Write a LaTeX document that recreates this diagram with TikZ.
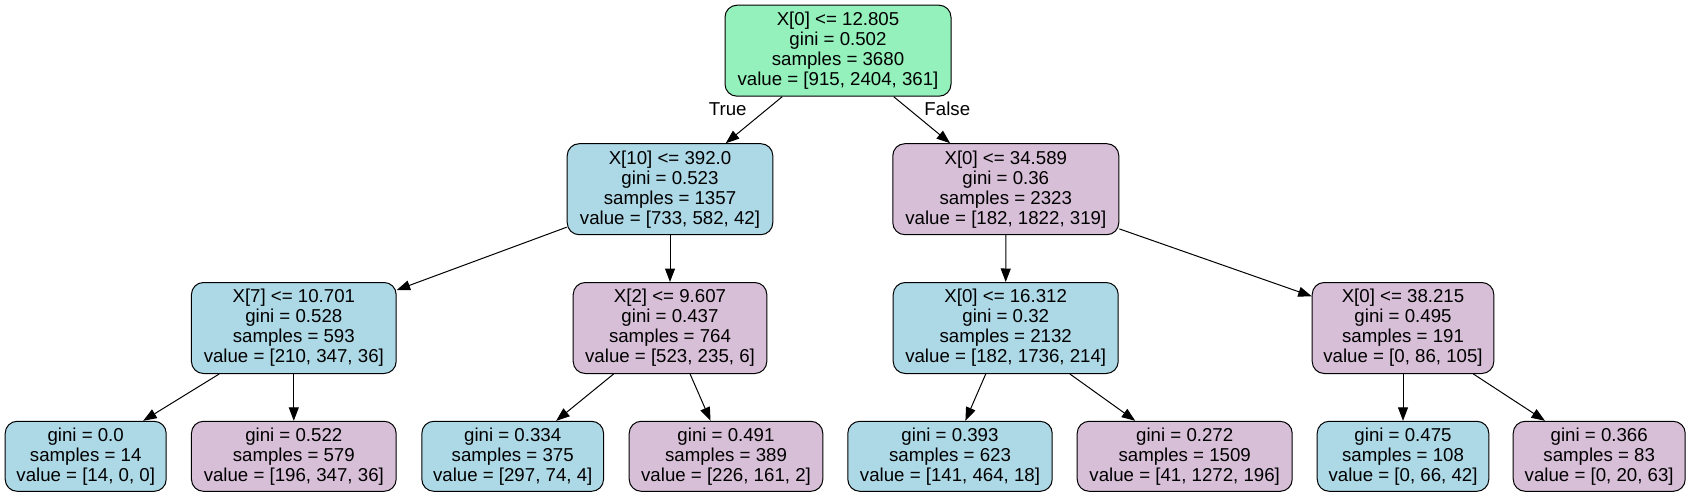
\documentclass[tikz,border=0pt]{standalone}
\usepackage{fontspec}
\setmainfont{Liberation Sans}
\usetikzlibrary{arrows.meta}
\definecolor{rootgreen}{RGB}{148,241,187}
\definecolor{lblue}{RGB}{173,216,230}
\definecolor{thist}{RGB}{216,191,216}
\begin{document}
\begin{tikzpicture}[x=1pt,y=-1pt,
  tnode/.style={draw=black, line width=1pt, rounded corners=12pt, align=center, inner sep=0pt,
    font=\fontsize{18.67}{20}\selectfont},
  inner/.style={tnode, minimum height=91pt},
  leaf/.style={tnode, minimum height=70pt},
  edge/.style={draw=black, line width=1pt, -{Triangle[length=13.5pt,width=10pt]}},
  elabel/.style={font=\fontsize{18.67}{20}\selectfont, inner sep=0pt}]
\fill[white] (0,0) rectangle (1691,497);
\useasboundingbox (0,0) rectangle (1691,497);

\node[inner, fill=rootgreen, minimum width=226pt] (n0) at (838,50.7)
  {X[0] <= 12.805\\gini = 0.502\\samples = 3680\\value = [915, 2404, 361]};
\node[inner, fill=lblue, minimum width=205.6pt] (n1) at (670,189.2)
  {X[10] <= 392.0\\gini = 0.523\\samples = 1357\\value = [733, 582, 42]};
\node[inner, fill=thist, minimum width=226pt] (n8) at (1005.8,189.2)
  {X[0] <= 34.589\\gini = 0.36\\samples = 2323\\value = [182, 1822, 319]};
\node[inner, fill=lblue, minimum width=204.7pt] (n2) at (293.8,328)
  {X[7] <= 10.701\\gini = 0.528\\samples = 593\\value = [210, 347, 36]};
\node[inner, fill=thist, minimum width=193.6pt] (n5) at (670,328)
  {X[2] <= 9.607\\gini = 0.437\\samples = 764\\value = [523, 235, 6]};
\node[inner, fill=lblue, minimum width=225pt] (n9) at (1005.7,328)
  {X[0] <= 16.312\\gini = 0.32\\samples = 2132\\value = [182, 1736, 214]};
\node[inner, fill=thist, minimum width=181.6pt] (n12) at (1403,328)
  {X[0] <= 38.215\\gini = 0.495\\samples = 191\\value = [0, 86, 105]};

\node[leaf, fill=lblue, minimum width=161pt] (n3) at (85.7,456.3)
  {gini = 0.0\\samples = 14\\value = [14, 0, 0]};
\node[leaf, fill=thist, minimum width=204.7pt] (n4) at (293.8,456.3)
  {gini = 0.522\\samples = 579\\value = [196, 347, 36]};
\node[leaf, fill=lblue, minimum width=181.7pt] (n6) at (512.7,456.3)
  {gini = 0.334\\samples = 375\\value = [297, 74, 4]};
\node[leaf, fill=thist, minimum width=193.6pt] (n7) at (726,456.3)
  {gini = 0.491\\samples = 389\\value = [226, 161, 2]};
\node[leaf, fill=lblue, minimum width=204.4pt] (n10) at (950,456.3)
  {gini = 0.393\\samples = 623\\value = [141, 464, 18]};
\node[leaf, fill=thist, minimum width=215pt] (n11) at (1184.7,456.3)
  {gini = 0.272\\samples = 1509\\value = [41, 1272, 196]};
\node[leaf, fill=lblue, minimum width=171.6pt] (n13) at (1403,456.3)
  {gini = 0.475\\samples = 108\\value = [0, 66, 42]};
\node[leaf, fill=thist, minimum width=172pt] (n14) at (1599.2,456.3)
  {gini = 0.366\\samples = 83\\value = [0, 20, 63]};

\draw[edge] (n0) -- (n1);
\draw[edge] (n0) -- (n8);
\draw[edge] (n1) -- (n2);
\draw[edge] (n1) -- (n5);
\draw[edge] (n2) -- (n3);
\draw[edge] (n2) -- (n4);
\draw[edge] (n5) -- (n6);
\draw[edge] (n5) -- (n7);
\draw[edge] (n8) -- (n9);
\draw[edge] (n8) -- (n12);
\draw[edge] (n9) -- (n10);
\draw[edge] (n9) -- (n11);
\draw[edge] (n12) -- (n13);
\draw[edge] (n12) -- (n14);

\node[elabel] (lt) at (727.7,109) {True};
\node[elabel] (lf) at (947.3,109) {False};
\end{tikzpicture}
\end{document}
